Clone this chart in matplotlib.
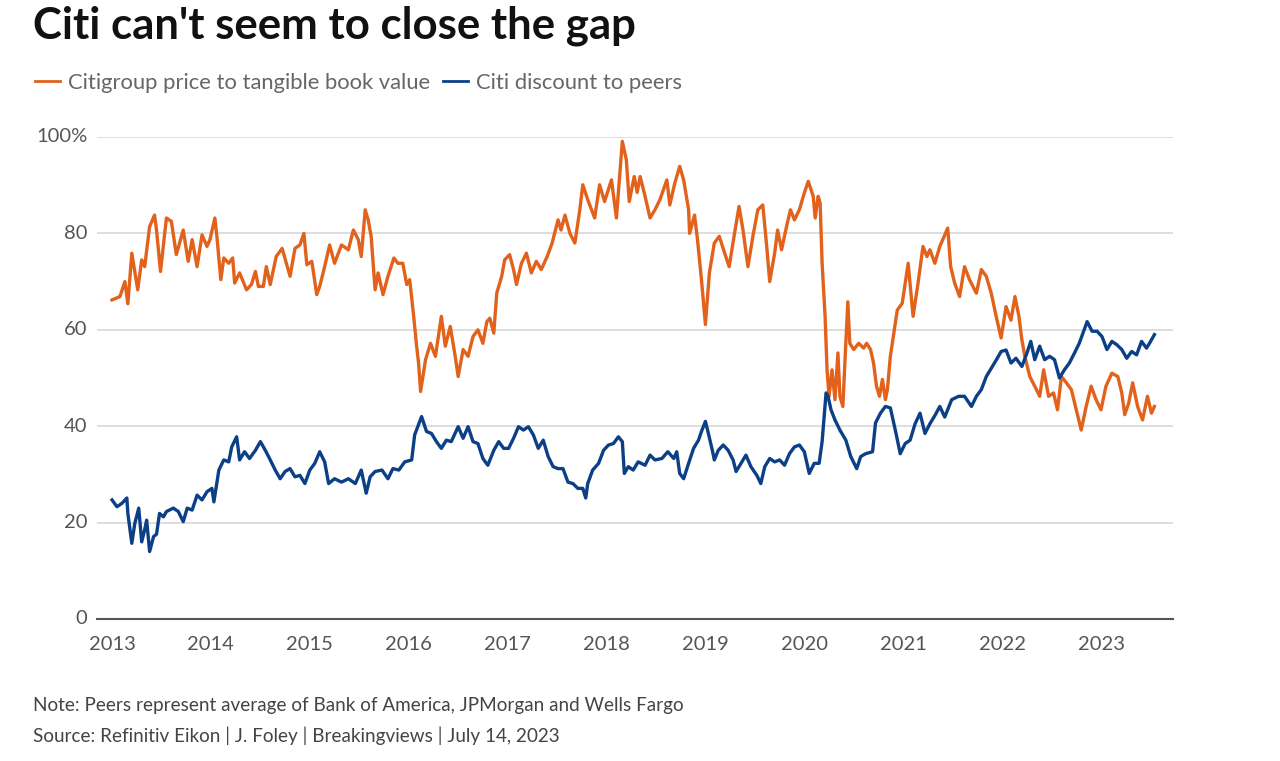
import matplotlib
matplotlib.use("Agg")
import matplotlib.pyplot as plt
from matplotlib.lines import Line2D

# Citigroup price to tangible book value (%), decimal years
ptbv_year = [2013.00, 2013.08, 2013.13, 2013.16, 2013.20, 2013.26, 2013.30, 2013.33, 2013.38, 2013.43,
             2013.45, 2013.49, 2013.55, 2013.60, 2013.65, 2013.72, 2013.77, 2013.81, 2013.86, 2013.91,
             2013.96, 2013.99, 2014.04, 2014.06, 2014.10, 2014.13, 2014.18, 2014.22, 2014.24, 2014.29,
             2014.36, 2014.41, 2014.45, 2014.48, 2014.53, 2014.56, 2014.60, 2014.66, 2014.72, 2014.80,
             2014.85, 2014.90, 2014.94, 2014.97, 2015.02, 2015.07, 2015.10, 2015.15, 2015.20, 2015.25,
             2015.32, 2015.39, 2015.44, 2015.49, 2015.52, 2015.56, 2015.59, 2015.62, 2015.66, 2015.69,
             2015.74, 2015.79, 2015.85, 2015.89, 2015.94, 2015.98, 2016.01, 2016.05, 2016.08, 2016.10,
             2016.12, 2016.17, 2016.22, 2016.27, 2016.33, 2016.37, 2016.42, 2016.47, 2016.50, 2016.55,
             2016.60, 2016.65, 2016.70, 2016.75, 2016.79, 2016.82, 2016.86, 2016.89, 2016.94, 2016.97,
             2017.02, 2017.06, 2017.09, 2017.14, 2017.19, 2017.24, 2017.29, 2017.34, 2017.40, 2017.45,
             2017.51, 2017.54, 2017.58, 2017.63, 2017.68, 2017.73, 2017.76, 2017.81, 2017.88, 2017.93,
             2017.98, 2018.05, 2018.10, 2018.16, 2018.20, 2018.23, 2018.28, 2018.31, 2018.34, 2018.39,
             2018.44, 2018.49, 2018.54, 2018.61, 2018.64, 2018.69, 2018.74, 2018.78, 2018.83, 2018.84,
             2018.89, 2018.92, 2018.96, 2019.00, 2019.04, 2019.09, 2019.14, 2019.19, 2019.24, 2019.30,
             2019.34, 2019.38, 2019.43, 2019.48, 2019.53, 2019.58, 2019.62, 2019.65, 2019.70, 2019.73,
             2019.77, 2019.82, 2019.86, 2019.90, 2019.95, 2020.00, 2020.04, 2020.09, 2020.11, 2020.14,
             2020.16, 2020.18, 2020.21, 2020.23, 2020.25, 2020.28, 2020.31, 2020.34, 2020.36, 2020.39,
             2020.41, 2020.44, 2020.46, 2020.50, 2020.55, 2020.60, 2020.63, 2020.67, 2020.70, 2020.73,
             2020.76, 2020.79, 2020.82, 2020.84, 2020.87, 2020.91, 2020.94, 2020.99, 2021.05, 2021.10,
             2021.15, 2021.20, 2021.24, 2021.27, 2021.32, 2021.37, 2021.40, 2021.45, 2021.48, 2021.52,
             2021.57, 2021.62, 2021.67, 2021.74, 2021.79, 2021.84, 2021.89, 2021.94, 2021.99, 2022.04,
             2022.09, 2022.13, 2022.17, 2022.20, 2022.23, 2022.28, 2022.33, 2022.38, 2022.42, 2022.47,
             2022.52, 2022.56, 2022.60, 2022.65, 2022.70, 2022.75, 2022.80, 2022.85, 2022.90, 2022.95,
             2023.00, 2023.05, 2023.11, 2023.17, 2023.21, 2023.24, 2023.28, 2023.32, 2023.37, 2023.42,
             2023.47, 2023.51, 2023.54]
ptbv_val = [66.2, 66.9, 70.0, 65.4, 75.9, 68.3, 74.5, 73.1, 81.4, 83.8,
            80.7, 72.1, 83.2, 82.5, 75.6, 80.7, 74.2, 78.7, 73.1, 79.7,
            77.3, 78.7, 83.2, 79.4, 70.4, 74.9, 73.8, 74.9, 69.7, 71.8,
            68.3, 69.4, 72.1, 69.0, 69.0, 73.1, 69.4, 75.2, 76.9, 71.1,
            76.9, 77.6, 80.0, 73.5, 74.2, 67.3, 69.0, 73.1, 77.6, 73.8,
            77.6, 76.6, 80.7, 78.7, 75.2, 84.9, 82.8, 79.4, 68.3, 71.8,
            67.3, 71.1, 74.9, 73.8, 73.8, 69.4, 70.4, 62.8, 56.6, 53.0,
            47.2, 53.8, 57.2, 54.5, 62.8, 56.6, 60.7, 54.5, 50.3, 55.9,
            54.5, 58.6, 60.0, 57.2, 61.7, 62.4, 59.3, 67.6, 71.1, 74.5,
            75.6, 72.5, 69.4, 73.8, 75.9, 71.8, 74.2, 72.5, 75.2, 78.0,
            82.8, 80.7, 83.8, 80.0, 78.0, 84.9, 90.1, 87.0, 83.2, 90.1,
            86.6, 91.1, 83.2, 99.1, 95.3, 86.6, 91.8, 88.5, 91.8, 87.7,
            83.2, 84.9, 87.0, 91.1, 85.9, 90.4, 93.9, 91.1, 84.9, 80.0,
            83.8, 78.7, 70.4, 61.1, 71.8, 78.0, 79.4, 76.2, 73.1, 80.7,
            85.6, 80.7, 73.1, 79.4, 84.9, 85.9, 77.3, 70.0, 75.9, 80.7,
            76.6, 81.4, 84.9, 82.8, 84.9, 88.4, 90.8, 87.7, 83.2, 87.7,
            86.3, 73.8, 62.8, 51.7, 46.2, 51.7, 45.5, 55.2, 46.2, 44.1,
            53.1, 65.8, 57.2, 55.9, 57.2, 56.2, 57.2, 55.9, 53.1, 48.3,
            46.2, 49.7, 45.5, 47.6, 54.5, 60.0, 64.1, 65.5, 73.8, 62.8,
            69.7, 77.3, 75.2, 76.6, 73.8, 77.3, 78.7, 81.1, 73.1, 69.7,
            66.9, 73.1, 70.4, 67.6, 72.5, 71.1, 67.6, 62.8, 58.3, 64.8,
            62.0, 66.9, 62.8, 57.9, 54.5, 50.3, 48.3, 46.2, 51.7, 46.2,
            46.9, 43.4, 50.3, 49.0, 47.6, 43.4, 39.2, 44.1, 48.3, 45.5,
            43.4, 48.3, 51.0, 50.3, 46.9, 42.4, 44.8, 49.0, 44.1, 41.3,
            46.2, 42.7, 44.1]

# Citi discount to peers (%)
disc_year = [2013.00, 2013.05, 2013.10, 2013.15, 2013.16, 2013.20, 2013.23, 2013.27, 2013.30, 2013.33,
             2013.35, 2013.38, 2013.42, 2013.45, 2013.48, 2013.52, 2013.55, 2013.62, 2013.67, 2013.72,
             2013.76, 2013.81, 2013.86, 2013.91, 2013.96, 2014.01, 2014.03, 2014.08, 2014.13, 2014.18,
             2014.21, 2014.26, 2014.29, 2014.34, 2014.39, 2014.45, 2014.50, 2014.55, 2014.60, 2014.65,
             2014.70, 2014.75, 2014.80, 2014.85, 2014.90, 2014.95, 2015.00, 2015.05, 2015.10, 2015.15,
             2015.19, 2015.25, 2015.32, 2015.39, 2015.46, 2015.52, 2015.57, 2015.61, 2015.66, 2015.73,
             2015.79, 2015.84, 2015.90, 2015.96, 2016.03, 2016.06, 2016.13, 2016.18, 2016.23, 2016.28,
             2016.33, 2016.38, 2016.43, 2016.50, 2016.55, 2016.60, 2016.65, 2016.70, 2016.75, 2016.80,
             2016.86, 2016.91, 2016.96, 2017.01, 2017.06, 2017.11, 2017.16, 2017.21, 2017.26, 2017.31,
             2017.36, 2017.41, 2017.46, 2017.51, 2017.56, 2017.61, 2017.66, 2017.71, 2017.76, 2017.79,
             2017.81, 2017.86, 2017.92, 2017.97, 2018.02, 2018.07, 2018.12, 2018.16, 2018.18, 2018.22,
             2018.27, 2018.32, 2018.39, 2018.44, 2018.49, 2018.56, 2018.62, 2018.68, 2018.71, 2018.74,
             2018.78, 2018.83, 2018.88, 2018.93, 2018.96, 2019.00, 2019.03, 2019.07, 2019.09, 2019.13,
             2019.18, 2019.23, 2019.28, 2019.31, 2019.36, 2019.41, 2019.46, 2019.52, 2019.56, 2019.60,
             2019.65, 2019.70, 2019.75, 2019.80, 2019.85, 2019.90, 2019.95, 2020.00, 2020.05, 2020.10,
             2020.15, 2020.18, 2020.22, 2020.24, 2020.27, 2020.31, 2020.36, 2020.42, 2020.47, 2020.53,
             2020.57, 2020.62, 2020.69, 2020.72, 2020.77, 2020.82, 2020.87, 2020.92, 2020.97, 2021.02,
             2021.07, 2021.12, 2021.17, 2021.22, 2021.27, 2021.32, 2021.37, 2021.42, 2021.49, 2021.56,
             2021.62, 2021.69, 2021.74, 2021.79, 2021.84, 2021.89, 2021.94, 2021.99, 2022.04, 2022.09,
             2022.14, 2022.20, 2022.25, 2022.29, 2022.33, 2022.38, 2022.43, 2022.48, 2022.53, 2022.58,
             2022.63, 2022.68, 2022.73, 2022.78, 2022.83, 2022.86, 2022.91, 2022.96, 2023.01, 2023.06,
             2023.11, 2023.16, 2023.21, 2023.26, 2023.31, 2023.36, 2023.41, 2023.46, 2023.49, 2023.54]
disc_val = [24.7, 23.3, 24.0, 25.1, 21.9, 15.7, 19.8, 23.0, 16.0, 18.5,
            20.5, 14.0, 17.1, 17.6, 21.9, 21.2, 22.3, 23.0, 22.3, 20.2,
            23.0, 22.6, 25.7, 24.7, 26.4, 27.1, 24.3, 30.9, 33.0, 32.6,
            35.7, 37.8, 33.0, 34.7, 33.3, 35.0, 36.8, 35.0, 33.0, 30.9,
            29.1, 30.6, 31.2, 29.5, 29.8, 28.1, 30.9, 32.3, 34.7, 32.6,
            28.1, 29.1, 28.4, 29.1, 28.1, 30.9, 26.1, 29.5, 30.6, 30.9,
            29.1, 31.2, 30.9, 32.6, 33.0, 38.2, 42.0, 38.9, 38.5, 36.8,
            35.4, 37.1, 36.8, 39.9, 37.5, 39.9, 36.8, 36.4, 33.3, 31.9,
            35.0, 36.8, 35.4, 35.4, 37.5, 39.9, 39.2, 39.9, 38.2, 35.4,
            37.1, 33.7, 31.6, 31.2, 31.2, 28.4, 28.1, 27.1, 27.1, 25.1,
            28.1, 30.9, 32.3, 35.0, 36.1, 36.4, 37.8, 36.8, 30.2, 31.6,
            30.9, 32.6, 31.9, 34.0, 33.0, 33.3, 34.7, 33.3, 34.7, 30.2,
            29.1, 32.3, 35.4, 37.1, 38.9, 41.0, 38.5, 35.0, 33.0, 35.0,
            36.1, 35.0, 33.0, 30.6, 32.3, 34.0, 31.6, 29.8, 28.1, 31.6,
            33.3, 32.6, 33.0, 31.9, 34.3, 35.7, 36.1, 34.7, 30.2, 32.3,
            32.3, 36.8, 46.9, 46.2, 43.4, 41.3, 39.2, 37.1, 33.7, 31.2,
            33.7, 34.3, 34.7, 40.7, 42.7, 44.1, 43.8, 39.2, 34.3, 36.4,
            37.1, 40.5, 42.7, 38.5, 40.5, 42.2, 44.1, 41.9, 45.5, 46.2,
            46.2, 44.1, 46.2, 47.6, 50.3, 52.0, 53.7, 55.5, 55.8, 53.1,
            54.1, 52.4, 55.1, 57.6, 53.8, 56.6, 53.8, 54.5, 53.8, 50.0,
            51.7, 53.1, 55.1, 57.2, 60.0, 61.7, 59.7, 59.7, 58.6, 55.9,
            57.6, 56.9, 55.9, 54.1, 55.5, 54.8, 57.6, 56.2, 57.2, 59.0]

years = list(range(2013, 2024))
yticks = [0, 20, 40, 60, 80, 100]
ytick_labels = ["0", "20", "40", "60", "80", "100%"]

orange = "#E2611B"
navy = "#0B3F86"

plt.rcParams["font.family"] = ["Lato", "DejaVu Sans"]

fig = plt.figure(figsize=(12.8, 7.61), dpi=100)
ax = fig.add_axes([97/1280, 1 - 619/761, (1173 - 97)/1280, (619 - 137)/761])

ax.plot(ptbv_year, ptbv_val, color=orange, lw=2.4, zorder=3, clip_on=False)
ax.plot(disc_year, disc_val, color=navy, lw=2.4, zorder=4, clip_on=False)

ax.set_xlim(2012.848, 2023.728)
ax.set_ylim(0, 100)
ax.set_xticks(years)
ax.set_xticklabels([str(y) for y in years])
ax.set_yticks(yticks)
ax.set_yticklabels(ytick_labels)
ax.tick_params(axis="both", length=0, labelsize=14.5, colors="#555555")
ax.tick_params(axis="x", pad=12)
ax.tick_params(axis="y", pad=7)
for lab in ax.get_yticklabels():
    lab.set_verticalalignment("center")

ax.grid(axis="y", color="#d4d4d4", lw=1.1)
ax.set_axisbelow(True)
for s in ["top", "right", "left"]:
    ax.spines[s].set_visible(False)
ax.spines["bottom"].set_color("#555555")
ax.spines["bottom"].set_linewidth(1.5)

fig.text(33/1280, 1 - 26/761, "Citi can't seem to close the gap", fontsize=31.5, fontweight="bold",
         color="#111111", va="center", ha="left")

handles = [Line2D([], [], color=orange, lw=2), Line2D([], [], color=navy, lw=2)]
fig.legend(handles, ["Citigroup price to tangible book value", "Citi discount to peers"],
           loc="center left", bbox_to_anchor=(15/1280, 1 - 83/761), ncol=2, frameon=False,
           fontsize=15.8, handlelength=1.15, handletextpad=0.38, columnspacing=0.55, labelcolor="#666666")

fig.text(33/1280, 1 - 705/761, "Note: Peers represent average of Bank of America, JPMorgan and Wells Fargo",
         fontsize=13.6, color="#444444", va="center", ha="left")
fig.text(33/1280, 1 - 736/761, "Source: Refinitiv Eikon | J. Foley | Breakingviews | July 14, 2023",
         fontsize=13.6, color="#444444", va="center", ha="left")

fig.savefig("out.png", dpi=100, facecolor="white")
